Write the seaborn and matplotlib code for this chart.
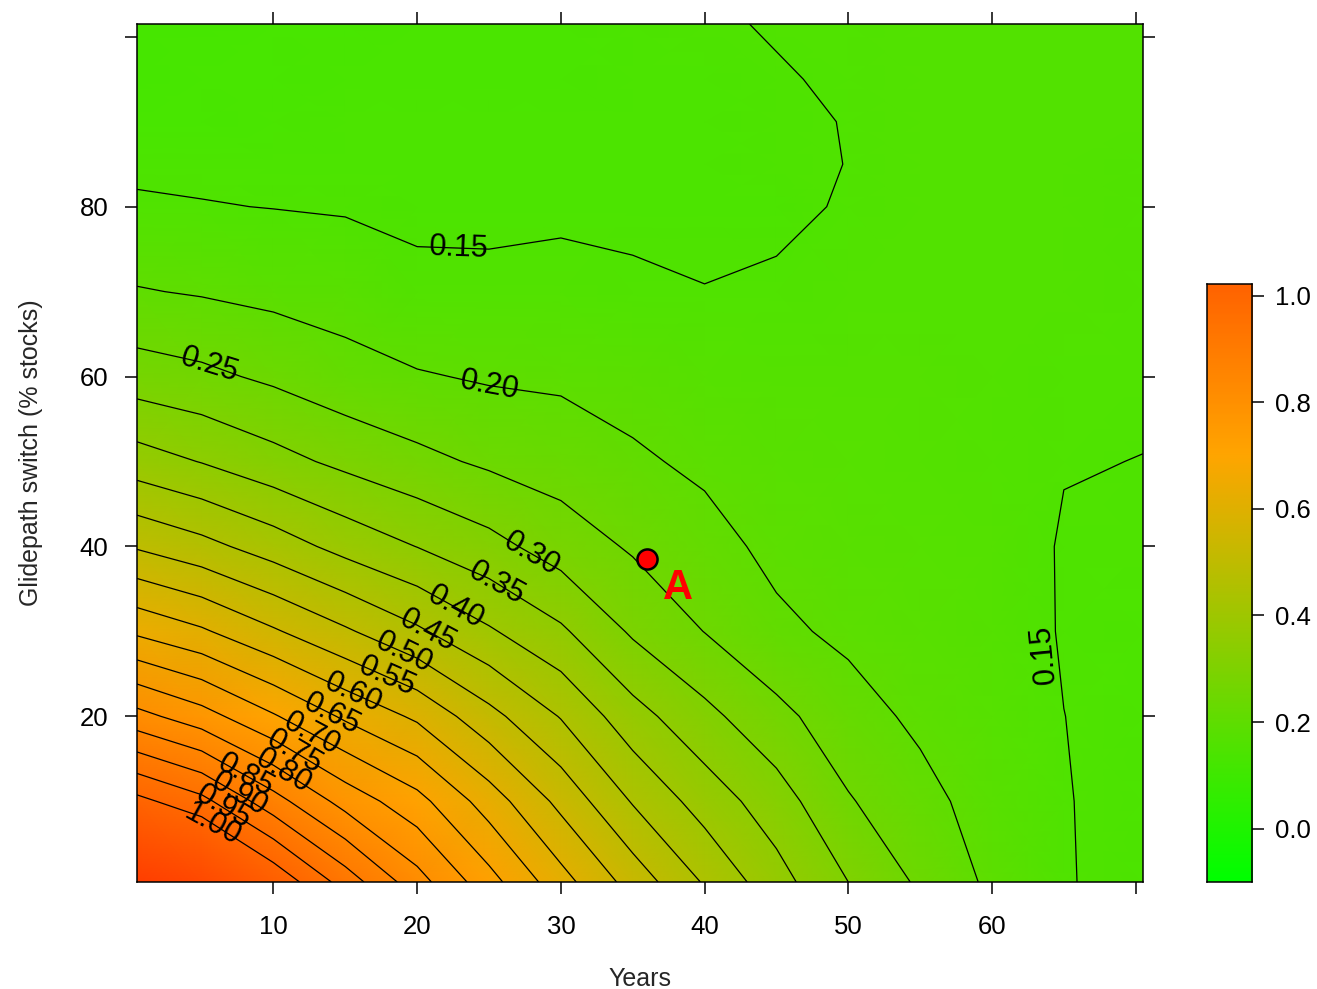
import numpy as np
import matplotlib
matplotlib.use("Agg")
import matplotlib.pyplot as plt
from matplotlib.colors import LinearSegmentedColormap, Normalize
import seaborn as sns

# grid (x = years, y = glidepath switch %)
years = [0.5, 5, 10, 15, 20, 25, 30, 35, 40, 45, 50, 55, 60, 65, 70.5]
glidepath = [0.5, 10, 20, 30, 40, 50, 60, 70, 80, 85, 90, 95, 101.5]

# one row of surface values per glidepath level, left to right over years
z_g00 = [1.200, 1.148, 1.041, 0.928, 0.820, 0.719, 0.619, 0.530, 0.445, 0.369, 0.300, 0.242, 0.190, 0.1520, 0.1400]
z_g10 = [1.015, 0.965, 0.870, 0.781, 0.717, 0.626, 0.536, 0.446, 0.378, 0.323, 0.254, 0.216, 0.178, 0.1515, 0.1400]
z_g20 = [0.817, 0.771, 0.705, 0.642, 0.591, 0.516, 0.447, 0.369, 0.314, 0.264, 0.220, 0.190, 0.170, 0.1502, 0.1410]
z_g30 = [0.641, 0.607, 0.556, 0.507, 0.458, 0.406, 0.358, 0.293, 0.249, 0.210, 0.190, 0.180, 0.165, 0.1480, 0.1430]
z_g40 = [0.495, 0.466, 0.426, 0.383, 0.349, 0.316, 0.277, 0.244, 0.217, 0.188, 0.180, 0.172, 0.163, 0.1480, 0.1450]
z_g50 = [0.373, 0.348, 0.317, 0.288, 0.263, 0.242, 0.227, 0.207, 0.191, 0.180, 0.172, 0.167, 0.162, 0.1510, 0.1497]
z_g60 = [0.274, 0.261, 0.241, 0.218, 0.204, 0.195, 0.192, 0.182, 0.171, 0.167, 0.166, 0.164, 0.161, 0.1550, 0.1530]
z_g70 = [0.203, 0.196, 0.187, 0.179, 0.159, 0.158, 0.162, 0.156, 0.151, 0.155, 0.161, 0.162, 0.160, 0.1570, 0.1550]
z_g80 = [0.1555, 0.152, 0.149, 0.146, 0.142, 0.142, 0.143, 0.142, 0.140, 0.143, 0.153, 0.160, 0.160, 0.1580, 0.1560]
z_g85 = [0.142, 0.141, 0.141, 0.141, 0.140, 0.140, 0.140, 0.140, 0.140, 0.144, 0.1505, 0.159, 0.160, 0.1580, 0.1560]
z_g90 = [0.128, 0.130, 0.135, 0.138, 0.138, 0.138, 0.139, 0.139, 0.140, 0.145, 0.151, 0.158, 0.160, 0.1580, 0.1570]
z_g95 = [0.124, 0.126, 0.130, 0.134, 0.135, 0.136, 0.137, 0.138, 0.142, 0.147, 0.155, 0.158, 0.160, 0.1580, 0.1570]
z_g100 = [0.120, 0.122, 0.125, 0.130, 0.132, 0.134, 0.136, 0.138, 0.145, 0.153, 0.156, 0.158, 0.160, 0.1580, 0.1570]

# highlighted point
point_x = [36]
point_y = [38.5]
point_label = "A"

x_ticks = [10, 20, 30, 40, 50, 60, 70]
x_ticklabels = ["10", "20", "30", "40", "50", "60", ""]
y_ticks = [20, 40, 60, 80, 100]
y_ticklabels = ["20", "40", "60", "80", ""]
cbar_ticks = [0.0, 0.2, 0.4, 0.6, 0.8, 1.0]

levels = np.round(np.arange(0.15, 1.0001, 0.05), 2)

sns.set_style("ticks")
plt.rcParams["font.family"] = ["Liberation Sans", "DejaVu Sans"]

Z = np.array([z_g00, z_g10, z_g20, z_g30, z_g40, z_g50, z_g60,
              z_g70, z_g80, z_g85, z_g90, z_g95, z_g100])

cmap = LinearSegmentedColormap.from_list(
    "green_orange_red", [(0.0, "#00ff00"), (0.5, "#ffa500"), (1.0, "#ff0000")])
norm = Normalize(vmin=-0.1, vmax=1.5)

fig = plt.figure(figsize=(13.17, 9.89), dpi=100)
ax = fig.add_axes([0.104, 0.1082, 0.7638, 0.8675])

ax.pcolormesh(years, glidepath, Z, shading="gouraud", cmap=cmap, norm=norm)

# where the labels sit on each line (data coords)
label_spots = {
    0.15: [(22.9, 74.7), (63.3, 27.1)],
    0.20: [(25.0, 58.5)],
    0.25: [(5.6, 61.8)],
    0.30: [(28.1, 39.6)],
    0.35: [(25.5, 35.5)],
    0.40: [(22.7, 32.9)],
    0.45: [(20.7, 30.0)],
    0.50: [(19.0, 27.1)],
    0.55: [(17.8, 24.1)],
    0.60: [(15.6, 22.9)],
    0.65: [(14.2, 20.6)],
    0.70: [(12.9, 18.8)],
    0.75: [(11.8, 16.7)],
    0.80: [(10.9, 14.1)],
    0.85: [(8.1, 13.2)],
    0.90: [(7.8, 11.4)],
    0.95: [(6.6, 9.6)],
    1.00: [(5.9, 7.6)],
}
# one contour set per level so each label lands on its own line
for lev in levels:
    cs = ax.contour(years, glidepath, Z, levels=[lev], colors="black", linewidths=0.9)
    spots = label_spots.get(round(float(lev), 2))
    if spots:
        texts = ax.clabel(cs, manual=spots, inline=False,
                          fmt="%.2f", fontsize=22, colors="black")
        for t in texts:
            # near-vertical labels read bottom-to-top like the original
            rot = t.get_rotation() % 360
            if 225 < rot < 315:
                t.set_rotation(rot - 180)
                t.set_x(t.get_position()[0] - 1.0)

sns.scatterplot(x=point_x, y=point_y, s=210, color="#ff0000", edgecolor="black",
                linewidth=1.8, ax=ax, zorder=5, legend=False)
ax.annotate(point_label, (point_x[0], point_y[0]), xytext=(22, -21),
            textcoords="offset points", ha="center", va="center",
            color="#ff0000", fontsize=30, fontweight="bold")

ax.set_xlim(0.5, 70.5)
ax.set_ylim(0.5, 101.5)
ax.set_xticks(x_ticks)
ax.set_xticklabels(x_ticklabels)
ax.set_yticks(y_ticks)
ax.set_yticklabels(y_ticklabels)
ax.tick_params(direction="out", length=8.6, width=1.1, top=True, right=True,
               labeltop=False, labelright=False, labelsize=18.5, colors="black")
ax.tick_params(axis="x", pad=15)
ax.tick_params(axis="y", pad=12)
for sp in ax.spines.values():
    sp.set_visible(True)
    sp.set_linewidth(1.1)
    sp.set_color("black")
ax.set_xlabel("Years", fontsize=18, labelpad=20)
ax.set_ylabel("Glidepath switch (% stocks)", fontsize=18, labelpad=26)

# colour key
cax = fig.add_axes([0.9165, 0.1082, 0.0342, 0.6047])
ramp = np.linspace(-0.1, 1.022, 300).reshape(-1, 1)
cax.imshow(ramp, extent=[0, 1, -0.1, 1.022], origin="lower", aspect="auto",
           cmap=cmap, norm=norm)
cax.set_xticks([])
cax.yaxis.tick_right()
cax.set_yticks(cbar_ticks)
cax.set_yticklabels([f"{t:.1f}" for t in cbar_ticks])
cax.tick_params(axis="y", direction="out", length=8.6, width=1.1,
                labelsize=18.5, pad=8, colors="black")
for sp in cax.spines.values():
    sp.set_visible(True)
    sp.set_linewidth(1.1)
    sp.set_color("black")

fig.savefig("out.png", dpi=100)
